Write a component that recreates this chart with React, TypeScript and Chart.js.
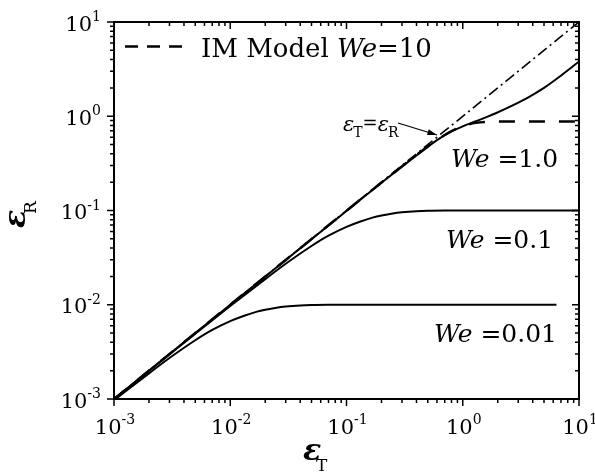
import React, { useEffect, useRef } from 'react';
import { Chart, registerables } from 'chart.js';

Chart.register(...registerables);

// ---- data (log-log) ----
const weLowX = [0.001, 0.002, 0.003, 0.005, 0.007, 0.01, 0.013, 0.017, 0.02, 0.025, 0.03, 0.04, 0.05, 0.07, 0.1, 0.3, 1, 3, 6.4];
const weLowY = [0.00097, 0.00187, 0.00272, 0.0042, 0.0054, 0.0067, 0.0076, 0.00845, 0.00885, 0.0093, 0.00956, 0.00982, 0.00993, 0.00999, 0.01, 0.01, 0.01, 0.01, 0.01];

const weMidX = [0.001, 0.002, 0.005, 0.01, 0.02, 0.03, 0.05, 0.07, 0.1, 0.13, 0.17, 0.2, 0.25, 0.3, 0.4, 0.5, 0.7, 1, 3, 10];
const weMidY = [0.001, 0.00198, 0.00493, 0.0097, 0.0187, 0.0272, 0.042, 0.054, 0.067, 0.076, 0.0845, 0.0885, 0.093, 0.0956, 0.0982, 0.0993, 0.0999, 0.1, 0.1, 0.1];

const weHighX = [0.001, 0.01, 0.03, 0.1, 0.2, 0.3, 0.4, 0.5, 0.6, 0.8, 1, 1.3, 1.6, 1.9, 2.5, 3.7, 5, 7, 10];
const weHighY = [0.001, 0.00999, 0.0299, 0.099, 0.197, 0.292, 0.384, 0.473, 0.558, 0.69, 0.78, 0.885, 0.98, 1.07, 1.25, 1.6, 2.0, 2.7, 3.8];

const imX = [0.001, 0.01, 0.03, 0.1, 0.2, 0.3, 0.4, 0.5, 0.7, 0.9, 1.1, 1.3, 1.6, 2, 3, 10];
const imY = [0.001, 0.01, 0.0299, 0.0993, 0.198, 0.294, 0.388, 0.478, 0.632, 0.745, 0.815, 0.852, 0.872, 0.877, 0.877, 0.877];

const diagX = [0.001, 10];
const diagY = [0.001, 10];

const tickExponents = [-3, -2, -1, 0, 1];
const minorMultipliers = [2, 3, 4, 5, 6, 7, 8, 9];

const curveLabels = [
  { name: 'We', value: ' =1.0', x: 451, y: 167 },
  { name: 'We', value: ' =0.1', x: 446, y: 248 },
  { name: 'We', value: ' =0.01', x: 434, y: 342 },
];

const FONT = '"DejaVu Serif", serif';

const zip = (xs: number[], ys: number[]) => xs.map((x, i) => ({ x, y: ys[i] }));

const decorPlugin = {
  id: 'decor',
  afterDraw(chart: any) {
    const ctx: CanvasRenderingContext2D = chart.ctx;
    const { left, right, top, bottom } = chart.chartArea;
    const xs = chart.scales.x;
    const ys = chart.scales.y;
    ctx.save();
    ctx.strokeStyle = '#000';
    ctx.fillStyle = '#000';
    ctx.lineWidth = 2;
    ctx.strokeRect(left, top, right - left, bottom - top);

    // ticks
    ctx.lineWidth = 1.5;
    const drawTick = (v: number, major: boolean) => {
      const len = major ? 7 : 4;
      const px = xs.getPixelForValue(v);
      const py = ys.getPixelForValue(v);
      ctx.beginPath();
      ctx.moveTo(px, bottom); ctx.lineTo(px, bottom + len);
      ctx.moveTo(px, top); ctx.lineTo(px, top + len);
      ctx.moveTo(left, py); ctx.lineTo(left - len, py);
      ctx.moveTo(right, py); ctx.lineTo(right - len, py);
      ctx.stroke();
    };
    tickExponents.forEach((e, i) => {
      const base = Math.pow(10, e);
      drawTick(base, true);
      if (i < tickExponents.length - 1) {
        minorMultipliers.forEach((m) => drawTick(m * base, false));
      }
    });

    // tick labels 10^e
    const bigFont = `21px ${FONT}`;
    const supFont = `14px ${FONT}`;
    ctx.textBaseline = 'alphabetic';
    tickExponents.forEach((e) => {
      const v = Math.pow(10, e);
      const sup = String(e);
      ctx.font = bigFont;
      const wb = ctx.measureText('10').width;
      ctx.font = supFont;
      const ws = ctx.measureText(sup).width;
      const total = wb + ws;
      const px = xs.getPixelForValue(v);
      const x0 = px - total / 2 + 1;
      ctx.textAlign = 'left';
      ctx.font = bigFont;
      ctx.fillText('10', x0, 434);
      ctx.font = supFont;
      ctx.fillText(sup, x0 + wb, 424);
      const py = ys.getPixelForValue(v);
      const y0 = 101 - total;
      ctx.font = bigFont;
      ctx.fillText('10', y0, py + 8.5);
      ctx.font = supFont;
      ctx.fillText(sup, y0 + wb, py - 1);
    });

    // legend
    ctx.save();
    ctx.lineWidth = 2.5;
    ctx.setLineDash([13, 9]);
    ctx.beginPath();
    ctx.moveTo(125, 46.5);
    ctx.lineTo(184, 46.5);
    ctx.stroke();
    ctx.restore();
    let lx = 201;
    ctx.textAlign = 'left';
    ctx.font = `26px ${FONT}`;
    ctx.fillText('IM Model ', lx, 57);
    lx += ctx.measureText('IM Model ').width;
    ctx.font = `italic 26px ${FONT}`;
    ctx.fillText('We', lx, 57);
    lx += ctx.measureText('We').width;
    ctx.font = `26px ${FONT}`;
    ctx.fillText('=10', lx, 57);

    // curve labels
    curveLabels.forEach((c) => {
      ctx.font = `italic 25px ${FONT}`;
      ctx.fillText(c.name, c.x, c.y);
      const w = ctx.measureText(c.name).width;
      ctx.font = `25px ${FONT}`;
      ctx.fillText(c.value, c.x + w, c.y);
    });

    // annotation eps_T = eps_R with arrow
    let ax = 343;
    const ab = 131;
    ctx.font = `italic 21px ${FONT}`;
    ctx.fillText('ε', ax, ab);
    ax += ctx.measureText('ε').width - 1;
    ctx.font = `14px ${FONT}`;
    ctx.fillText('T', ax, ab + 6);
    ax += ctx.measureText('T').width;
    ctx.font = `18px ${FONT}`;
    ctx.fillText('=', ax, ab - 2);
    ax += ctx.measureText('=').width;
    ctx.font = `italic 21px ${FONT}`;
    ctx.fillText('ε', ax, ab);
    ax += ctx.measureText('ε').width - 1;
    ctx.font = `14px ${FONT}`;
    ctx.fillText('R', ax, ab + 6);

    ctx.lineWidth = 1.2;
    const sx = 398, sy = 123, ex = 437, ey = 135;
    ctx.beginPath();
    ctx.moveTo(sx, sy);
    ctx.lineTo(ex, ey);
    ctx.stroke();
    const ang = Math.atan2(ey - sy, ex - sx);
    ctx.beginPath();
    ctx.moveTo(ex, ey);
    ctx.lineTo(ex - 10 * Math.cos(ang - 0.3), ey - 10 * Math.sin(ang - 0.3));
    ctx.lineTo(ex - 10 * Math.cos(ang + 0.3), ey - 10 * Math.sin(ang + 0.3));
    ctx.closePath();
    ctx.fill();

    // axis titles
    ctx.font = `bold italic 30px ${FONT}`;
    ctx.fillText('ε', 303, 460);
    ctx.font = `17px ${FONT}`;
    ctx.fillText('T', 316, 471);

    ctx.save();
    ctx.translate(25, 228);
    ctx.rotate(-Math.PI / 2);
    ctx.font = `bold italic 30px ${FONT}`;
    ctx.fillText('ε', 0, 0);
    ctx.font = `17px ${FONT}`;
    ctx.fillText('R', 14, 11);
    ctx.restore();

    ctx.restore();
  },
};

export default function App() {
  const ref = useRef<HTMLCanvasElement>(null);
  useEffect(() => {
    if (!ref.current) return;
    const common = { pointRadius: 0, borderColor: '#000', backgroundColor: '#000', fill: false, showLine: true, cubicInterpolationMode: 'monotone' as const };
    const chart = new Chart(ref.current, {
      type: 'scatter',
      data: {
        datasets: [
          { ...common, label: 'eT=eR', data: zip(diagX, diagY), borderWidth: 1.6, borderDash: [11, 4, 2, 4] },
          { ...common, label: 'IM Model We=10', data: zip(imX, imY), borderWidth: 2.5, borderDash: [16, 14] },
          { ...common, label: 'We=1.0', data: zip(weHighX, weHighY), borderWidth: 2 },
          { ...common, label: 'We=0.1', data: zip(weMidX, weMidY), borderWidth: 2 },
          { ...common, label: 'We=0.01', data: zip(weLowX, weLowY), borderWidth: 2 },
        ],
      },
      options: {
        responsive: false,
        animation: false,
        layout: { padding: { left: 114, top: 22, right: 16, bottom: 73 } },
        plugins: { legend: { display: false }, tooltip: { enabled: false } },
        scales: {
          x: { type: 'logarithmic', min: 0.001, max: 10, display: false },
          y: { type: 'logarithmic', min: 0.001, max: 10, display: false },
        },
      },
      plugins: [decorPlugin],
    });
    return () => chart.destroy();
  }, []);
  return (
    <div style={{ position: 'fixed', left: 0, top: 0, width: 595, height: 472, background: '#fff' }}>
      <canvas ref={ref} width={595} height={472} style={{ width: 595, height: 472 }} />
    </div>
  );
}
